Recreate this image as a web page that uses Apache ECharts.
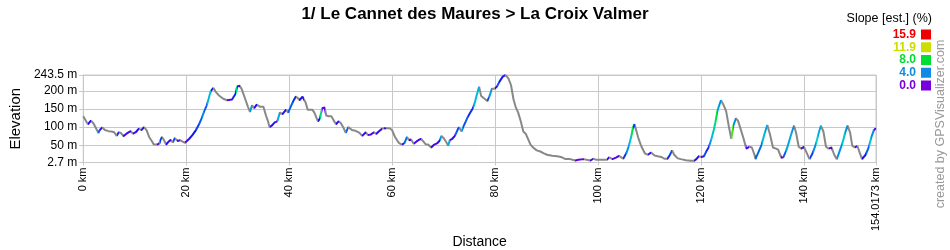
<!DOCTYPE html>
<html>
<head>
<meta charset="utf-8">
<script src="https://cdn.jsdelivr.net/npm/echarts@6/dist/echarts.min.js"></script>
<style>html,body{margin:0;padding:0;background:#fff}#c{width:950px;height:250px}</style>
</head>
<body>
<div id="c"></div>
<script>
var TITLE = '1/ Le Cannet des Maures > La Croix Valmer';
var X_NAME = 'Distance';
var Y_NAME = 'Elevation';
var CREDIT = 'created by GPSVisualizer.com';
var LEGEND_TITLE = 'Slope [est.] (%)';
var LEGEND_VALUES = [15.9, 11.9, 8.0, 4.0, 0.0];
var X_TICKS = [0, 20, 40, 60, 80, 100, 120, 140, 154.0173];
var Y_TICKS = [2.7, 50, 100, 150, 200, 243.5];
var X_MAX = 154.0173;
var Y_MIN = 2.7, Y_MAX = 243.5;

var DIST = [0,0.3,0.9,1.2,1.5,2.0,2.3,2.95,3.2,3.7,4.2,4.9,5.5,6.0,6.5,6.9,7.3,7.8,8.4,9.2,9.7,10.2,10.8,11.3,11.8,12.3,12.8,13.4,13.7,14.3,14.8,15.0,15.3,15.7,16.1,16.5,17.0,17.4,17.8,18.3,18.8,19.3,19.75,20.1,20.6,21.2,21.9,22.5,23.0,23.5,24.0,24.4,24.75,25.3,25.7,26.3,27.2,27.95,28.9,29.6,29.9,30.4,30.8,31.5,32.0,32.4,32.8,33.2,33.7,34.4,35.0,35.5,35.9,36.2,36.6,37.2,37.7,38.2,38.7,39.4,39.8,40.3,40.8,41.3,41.7,42.0,42.6,42.8,43.2,43.6,44.5,44.9,45.6,46.0,46.4,46.9,47.2,47.7,48.2,48.6,49.1,49.6,50.0,50.5,51.0,51.5,52.2,52.9,53.6,54.2,54.9,55.3,55.9,56.5,56.9,57.4,58.1,58.4,58.8,59.5,60.0,60.6,61.3,61.9,62.4,62.9,63.3,63.7,64.2,64.7,65.1,65.6,66.1,66.5,67.0,67.6,68.2,68.8,69.3,69.6,70.1,70.6,70.9,71.2,71.7,72.2,72.7,73.0,73.5,73.8,74.2,74.7,75.2,75.7,76.0,76.3,76.6,76.9,77.3,77.8,78.5,78.9,79.4,79.9,80.4,80.8,81.5,82.0,82.6,83.1,83.6,84.0,84.5,85.0,85.5,86.0,86.4,86.9,87.4,88.1,88.8,89.5,90.1,91.1,92.1,93.0,93.7,94.6,95.6,96.2,97.2,97.8,98.5,99.1,99.7,100.7,101.7,102.2,102.8,103.5,104.1,104.9,105.5,106.0,106.5,106.8,107.1,107.4,107.8,108.4,109.1,109.7,110.3,111.0,111.6,112.3,112.9,113.5,114.0,114.4,114.8,115.5,116.1,117.1,118.0,118.7,119.1,119.6,120.1,120.6,121.0,121.5,122.0,122.5,122.8,123.2,123.5,123.9,124.3,124.6,124.9,125.4,125.9,126.3,126.8,127.2,127.6,128.3,128.8,129.4,129.9,130.4,130.6,131.2,131.8,132.4,132.9,133.4,134.0,134.6,135.0,135.6,136.0,136.6,137.2,137.7,138.1,138.5,139.0,139.5,140.0,140.6,141.1,141.7,142.4,142.8,143.3,143.8,144.3,144.8,145.4,145.9,146.4,146.9,147.5,148.0,148.5,149.0,149.4,149.9,150.4,150.9,151.3,152.0,152.6,153.1,153.6,154.0173];
var ELEV = [130,128,108,112,118,110,105,84,92,99,92,89,88,86,76,86,84,75,82,89,82,86,96,92,100,92,73,60,52,52,55,65,73,64,52,59,65,58,70,62,64,60,57,58,68,78,92,108,124,144,160,180,199,208,198,188,178,174,176,192,212,214,204,176,156,142,160,152,162,156,156,132,116,100,104,113,116,140,136,148,140,156,172,184,180,174,184,186,168,148,148,140,116,124,152,154,132,130,130,120,108,116,112,100,84,100,92,90,85,76,86,78,80,86,81,88,96,92,97,97,92,72,57,52,56,73,64,66,54,60,64,68,60,53,52,44,52,56,64,76,68,57,49,64,68,76,92,100,88,100,112,128,140,152,164,180,196,211,186,180,172,184,206,206,212,224,239,243.5,234,216,176,156,140,116,88,81,68,52,44,36,33,28,24,21,20,17,12,12,8,10,12,10,8,13,10,10,10,17,12,16,21,13,28,48,76,100,108,104,72,48,28,24,30,22,20,18,13,13,24,36,24,14,12,9,7.5,7.5,12,20,18,20,32,44,65,92,112,144,158,174,164,160,144,104,68,104,124,118,100,68,41,46,44,24,12,32,52,84,106,81,44,41,38,16,17,36,64,88,104,84,46,41,46,28,12,28,56,80,104,88,46,41,44,24,12,32,56,84,104,84,49,44,48,28,12,24,44,72,92,97];

// slope colour scale (style)
var SLOPE_STOPS = [0, 2, 4, 6, 8, 10, 11.9, 14, 15.9];
var SLOPE_COLORS = ['#7000e0','#1414f0','#0090e8','#00d0c8','#00e040','#90e000','#d0e000','#ff8000','#ff0000'];
var LEGEND_COLORS = ['#ee0000','#ccdd00','#00dd33','#0f8be6','#7700dd'];
var DOWN_COLOR = '#888888';

function hex(c){return [parseInt(c.substr(1,2),16),parseInt(c.substr(3,2),16),parseInt(c.substr(5,2),16)];}
function slopeColor(s){
  if (s <= 0) return DOWN_COLOR;
  if (s >= SLOPE_STOPS[SLOPE_STOPS.length-1]) return SLOPE_COLORS[SLOPE_COLORS.length-1];
  for (var i=0;i<SLOPE_STOPS.length-1;i++){
    if (s <= SLOPE_STOPS[i+1]){
      var t=(s-SLOPE_STOPS[i])/(SLOPE_STOPS[i+1]-SLOPE_STOPS[i]);
      var a=hex(SLOPE_COLORS[i]), b=hex(SLOPE_COLORS[i+1]);
      return 'rgb('+Math.round(a[0]+(b[0]-a[0])*t)+','+Math.round(a[1]+(b[1]-a[1])*t)+','+Math.round(a[2]+(b[2]-a[2])*t)+')';
    }
  }
}
var data = DIST.map(function(d,i){return [d, ELEV[i]];});
var pieces = [];
for (var i=0;i<DIST.length-1;i++){
  var s = (ELEV[i+1]-ELEV[i])/((DIST[i+1]-DIST[i])*10);
  var p = {gte: DIST[i], color: slopeColor(s)};
  if (i === DIST.length-2) p.lte = DIST[i+1]; else p.lt = DIST[i+1];
  pieces.push(p);
}

var FONT = 'Liberation Sans, Arial, sans-serif';
var graphics = [{
  type:'text', right: 18, top: 12,
  style:{text: LEGEND_TITLE, font: '12.5px '+FONT, fill:'#000'}
},{
  type:'text', x: 941, y: 124, rotation: Math.PI/2,
  style:{text: CREDIT, font: '12.5px '+FONT, fill:'#999', textAlign:'center', textVerticalAlign:'middle'}
}];
LEGEND_VALUES.forEach(function(v,i){
  var yc = 34.5 + i*12.75;
  graphics.push({type:'text', x: 916, y: yc, style:{text: v.toFixed(1), font:'bold 12px '+FONT, fill: LEGEND_COLORS[i], textAlign:'right', textVerticalAlign:'middle'}});
  graphics.push({type:'rect', shape:{x: 921, y: yc-5, width: 10, height: 10}, style:{fill: LEGEND_COLORS[i]}});
});

var chart = echarts.init(document.getElementById('c'), null, {renderer:'canvas'});
chart.setOption({
  animation:false,
  backgroundColor:'#fff',
  title:{text: TITLE, left:'center', top: 1, textStyle:{fontFamily: FONT, fontSize:17, fontWeight:'bold', color:'#000'}},
  grid:{left:75, right:74, top:75, bottom:75, show:true, borderColor:'#c8c8c8', borderWidth:1},
  xAxis:{type:'value', min:0, max:X_MAX,
    name: X_NAME, nameLocation:'middle', nameGap: 60, nameTextStyle:{fontFamily:FONT, fontSize:14, color:'#000'},
    axisLine:{show:true, lineStyle:{color:'#c8c8c8'}},
    axisTick:{show:true, customValues: X_TICKS, length:3, lineStyle:{color:'#c8c8c8'}},
    axisLabel:{customValues: X_TICKS, rotate:90, margin:5, fontFamily:FONT, fontSize:11, color:'#000', formatter:function(v){return v+' km';}},
    splitLine:{show:true, lineStyle:{color:'#c8c8c8', width:1}}
  },
  yAxis:{type:'value', min:Y_MIN, max:Y_MAX,
    name: Y_NAME, nameLocation:'middle', nameGap: 52, nameRotate:90, nameTextStyle:{fontFamily:FONT, fontSize:15, color:'#000'},
    axisLine:{show:true, lineStyle:{color:'#c8c8c8'}},
    axisTick:{show:true, customValues: Y_TICKS, length:4, lineStyle:{color:'#c8c8c8'}},
    axisLabel:{customValues: Y_TICKS, margin:6, fontFamily:FONT, fontSize:12, color:'#000', formatter:function(v){return v+' m';}},
    splitLine:{show:true, lineStyle:{color:'#c8c8c8', width:1}}
  },
  visualMap:{type:'piecewise', show:false, dimension:0, seriesIndex:0, pieces: pieces, outOfRange:{color: DOWN_COLOR}},
  series:[{type:'line', data:data, showSymbol:false, symbol:'none', lineStyle:{width:2}, silent:true}],
  graphic: graphics
});
</script>
</body>
</html>
